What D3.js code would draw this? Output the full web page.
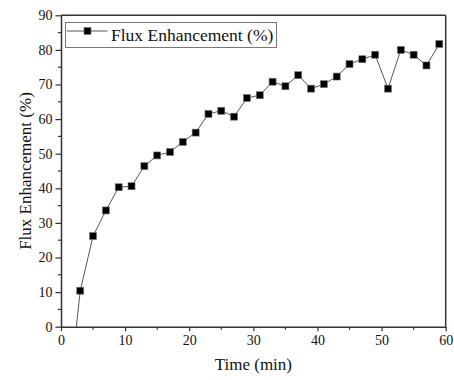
<!DOCTYPE html>
<html><head><meta charset="utf-8">
<script src="https://cdn.jsdelivr.net/npm/d3@7/dist/d3.min.js"></script>
<style>body{margin:0;background:#fff}svg{display:block}
text{font-family:'Liberation Serif','Times New Roman',serif !important;}</style>
</head><body>
<script>
const times = [1,3,5,7,9,11,13,15,17,19,21,23,25,27,29,31,33,35,37,39,41,43,45,47,49,51,53,55,57,59];
const fluxEnhancement = [-24,10.4,26.2,33.6,40.3,40.6,46.4,49.5,50.5,53.4,56.1,61.5,62.4,60.7,66.1,66.9,70.8,69.5,72.7,68.8,70.1,72.3,75.9,77.3,78.6,68.8,80.0,78.6,75.5,81.7];
const xTicks = [0,10,20,30,40,50,60];
const yTicks = [0,10,20,30,40,50,60,70,80,90];
const seriesName = "Flux Enhancement (%)";

const W=454,H=380;
const m={l:61,r:8.3,t:15.3,b:53.3};
const svg=d3.select("body").append("svg").attr("width",W).attr("height",H);
const x=d3.scaleLinear().domain([0,60]).range([m.l,W-m.r]);
const y=d3.scaleLinear().domain([0,90]).range([H-m.b,m.t]);
const font="'Liberation Serif','Times New Roman',serif";
const axisColor="#333";

svg.append("defs").append("clipPath").attr("id","clip")
  .append("rect").attr("x",x(0)).attr("y",y(90)).attr("width",x(60)-x(0)).attr("height",y(0)-y(90));

// frame top & right
svg.append("line").attr("x1",x(0)).attr("x2",x(60)).attr("y1",y(90)).attr("y2",y(90)).attr("stroke",axisColor).attr("stroke-width",1.5);
svg.append("line").attr("x1",x(60)).attr("x2",x(60)).attr("y1",y(90)).attr("y2",y(0)).attr("stroke",axisColor).attr("stroke-width",1.5);

// minor ticks
const xMinor=d3.range(5,60,10), yMinor=d3.range(5,90,10);
const g=svg.append("g");
g.selectAll(".xm").data(xMinor).join("line").attr("x1",d=>x(d)).attr("x2",d=>x(d)).attr("y1",y(0)).attr("y2",y(0)+3).attr("stroke",axisColor).attr("stroke-width",1.2);
g.selectAll(".ym").data(yMinor).join("line").attr("y1",d=>y(d)).attr("y2",d=>y(d)).attr("x1",x(0)).attr("x2",x(0)-3).attr("stroke",axisColor).attr("stroke-width",1.2);

const xAxis=svg.append("g").attr("transform",`translate(0,${y(0)})`)
  .call(d3.axisBottom(x).tickValues(xTicks).tickSize(4.5).tickPadding(4).tickSizeOuter(0));
const yAxis=svg.append("g").attr("transform",`translate(${x(0)},0)`)
  .call(d3.axisLeft(y).tickValues(yTicks).tickSize(5.5).tickPadding(3).tickSizeOuter(0));
[xAxis,yAxis].forEach(a=>{
  a.attr("font-family",font).attr("font-size",14);
  a.select(".domain").attr("stroke",axisColor).attr("stroke-width",1.5);
  a.selectAll(".tick line").attr("stroke",axisColor).attr("stroke-width",1.2);
  a.selectAll("text").attr("fill","#111");
});

// line
const pts=times.map((t,i)=>({t,v:fluxEnhancement[i]}));
const plot=svg.append("g").attr("clip-path","url(#clip)");
plot.append("path").datum(pts)
  .attr("d",d3.line().x(d=>x(d.t)).y(d=>y(d.v)))
  .attr("fill","none").attr("stroke","#555").attr("stroke-width",1);
const s=7;
plot.selectAll("rect.mk").data(pts).join("rect").attr("class","mk")
  .attr("x",d=>x(d.t)-s/2).attr("y",d=>y(d.v)-s/2).attr("width",s).attr("height",s)
  .attr("fill","#000").attr("stroke","#777").attr("stroke-width",0.6);

// axis titles
svg.append("text").attr("x",(x(0)+x(60))/2).attr("y",370).attr("text-anchor","middle")
  .attr("font-family",font).attr("font-size",17).attr("fill","#111").text("Time (min)");
svg.append("text").attr("transform",`translate(31,${(y(0)+y(90))/2}) rotate(-90)`).attr("text-anchor","middle")
  .attr("font-family",font).attr("font-size",17).attr("fill","#111").text(seriesName);

// legend
const lg=svg.append("g");
lg.append("rect").attr("x",65.5).attr("y",22.5).attr("width",211).attr("height",25)
  .attr("fill","#fff").attr("stroke","#777").attr("stroke-width",1);
lg.append("line").attr("x1",67).attr("x2",107.5).attr("y1",31).attr("y2",31).attr("stroke","#555").attr("stroke-width",1);
lg.append("rect").attr("x",87.5-s/2).attr("y",31-s/2).attr("width",s).attr("height",s).attr("fill","#000").attr("stroke","#777").attr("stroke-width",0.6);
lg.append("text").attr("x",111).attr("y",41).attr("font-family",font).attr("font-size",17.5).attr("fill","#111").text(seriesName);
</script>
</body></html>
